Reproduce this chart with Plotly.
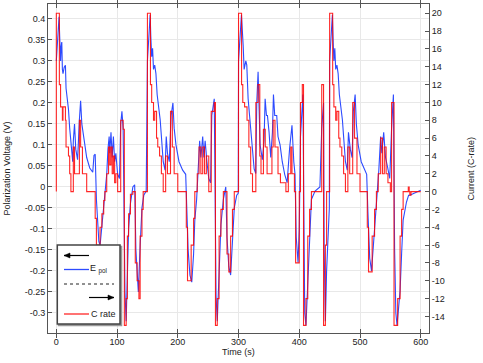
import plotly.graph_objects as go

# ---------------- data ----------------
# C-rate step profile, cycle by cycle (time in s, value holds until next time)
rate_t1 = [0, 0, 5, 7, 10, 11, 15, 16, 20, 22, 24, 28, 30, 38, 40, 43, 50, 64, 66, 72, 75, 78, 80,
           83, 86, 88, 90, 92, 94, 96, 98, 101, 106, 110, 112, 115, 117, 119, 122, 126, 130, 133,
           136, 138, 141, 143]
rate_c1 = [0, 20, 12, 9.5, 8, 9.5, 8, 5, 4, 2, 0, 5, 2, 8, 5, 2, 0, -3, -6, -4, -2.5, -1, 0,
           2, 5, 3, 5, 2, 4, 1, 2, 0, 8, 7, -15, -12, -5, -2.5, -0.3, 0, -8, -10,
           -12, -5, -2, 0]

rate_t2 = [150, 155, 157, 160, 162, 165, 167, 170, 173, 176, 180, 183, 188, 191, 194, 200, 214,
           216, 222, 226, 228, 232, 235, 238, 241, 244, 247, 251, 255, 260, 262, 265, 268, 271,
           275, 281, 284, 287, 290, 293]
rate_c2 = [20, 12, 10, 8, 9, 6, 5, 4, 2, 0, 4, 2, 9, 5, 2, 0, -4,
           -10, -6, -3, 0, 2, 5, 2, 5, 2, 4, 0, 9, 10, -15, -12, -5, -2,
           0, -7, -9, -5, -2, 0]

rate_t3 = [300, 305, 307, 310, 314, 317, 320, 323, 328.5, 332, 335, 337, 341, 344, 347, 355, 357,
           360, 365, 369, 378, 382, 386, 388, 392, 394, 400, 402, 405, 407, 411, 414, 417, 420,
           437, 440, 443, 445]
rate_c3 = [20, 12, 10, 9.5, 8, 5, 2, 0, 10, 12, 4, 2, 7, 5, 2, 5, 8,
           5, 2, 1, 0, 2, 5, 2, 0, -8, 0, 10, 12, -15, -12, -5, -2, 0,
           12, -15, -6, 0]

rate_t4 = [450, 455, 457, 460, 462, 465, 467, 470, 473, 476, 480, 483, 488, 491, 495, 500, 512,
           514, 520, 524, 527, 530, 534, 537, 540, 543, 546, 550, 552, 556, 562, 566, 568.5,
           571, 579.5, 581, 582, 584, 600]
rate_c4 = [20, 12, 9.5, 8, 9, 6, 5, 4, 2, 0, 5, 2, 10, 6, 2, 0, -4,
           -9, -5, -2, 0, 2, 6, 2, 5, 2, 1, 0, 10, -15, -12, -5, -2,
           0, 0.5, 0, -0.4, 0, 0]

# Polarization voltage, cycle by cycle
volt_t1 = [0, 4.5, 5.5, 7, 8, 9, 10, 11, 13, 15, 16, 18, 20, 22, 24, 27, 28, 30, 32, 35, 38, 40,
           42, 45, 50, 55, 60, 62, 64, 66, 68, 70, 72, 74, 76, 78, 80, 83, 85, 87, 88, 90, 92,
           94, 96, 98, 101, 104, 106, 108, 110, 112, 113, 115, 117, 119, 122, 126, 129, 131,
           133, 135, 138, 141, 144, 148]
volt_v1 = [0.30, 0.405, 0.36, 0.30, 0.335, 0.345, 0.28, 0.27, 0.285, 0.29, 0.235, 0.215, 0.185,
           0.14, 0.10, 0.06, 0.11, 0.15, 0.09, 0.065, 0.16, 0.205, 0.15, 0.12, 0.07, 0.045,
           0.035, 0.075, 0.078, -0.03, -0.10, -0.13, -0.14, -0.11, -0.07, -0.04, -0.02, 0.03,
           0.09, 0.12, 0.08, 0.13, 0.07, 0.12, 0.06, 0.08, 0.03, 0.02, 0.15, 0.18, 0.14, -0.05,
           -0.25, -0.32, -0.20, -0.10, -0.04, 0.0, 0.005, -0.15, -0.20, -0.25, -0.14, -0.05,
           -0.02, -0.01]

volt_t2 = [150, 154.5, 155.5, 157, 158.5, 160, 162, 164, 166, 168, 171, 173, 176, 179, 181, 183,
           186, 189, 192, 194, 197, 202, 208, 213, 215, 217, 220, 223, 226, 228, 231, 234, 236,
           238, 241, 243, 245, 248, 251, 254, 256, 260, 262, 263, 265, 268, 271, 275, 279, 281,
           284, 287, 290, 293, 297, 299.5]
volt_v2 = [0.30, 0.41, 0.36, 0.31, 0.33, 0.28, 0.29, 0.27, 0.22, 0.20, 0.16, 0.12, 0.06, 0.04,
           0.12, 0.08, 0.06, 0.17, 0.20, 0.14, 0.10, 0.06, 0.04, 0.03, -0.05, -0.15, -0.21,
           -0.227, -0.16, -0.08, -0.03, 0.05, 0.11, 0.07, 0.12, 0.07, 0.11, 0.06, 0.02, 0.01,
           0.17, 0.21, -0.05, -0.26, -0.32, -0.20, -0.09, -0.03, 0.0, -0.12, -0.19, -0.21,
           -0.12, -0.05, -0.02, -0.015]

volt_t3 = [300, 304.8, 307.6, 309.2, 312, 313.6, 315.8, 320.2, 323, 325.7, 328.4, 330, 332.2,
           335.5, 339.3, 342, 343.8, 346, 347.6, 350.3, 353, 355.8, 357.5, 359.6, 362.9, 365,
           368.4, 372, 376, 380, 384, 388, 391, 393, 395, 398, 400, 402, 406, 407.5, 409, 411,
           414, 417, 420, 426, 434, 437, 440, 441, 443, 445, 448, 449.5]
volt_v3 = [0.30, 0.41, 0.338, 0.28, 0.30, 0.29, 0.21, 0.14, 0.09, 0.043, 0.032, 0.20, 0.274,
           0.10, 0.065, 0.11, 0.21, 0.17, 0.17, 0.13, 0.07, 0.13, 0.22, 0.17, 0.17, 0.12,
           0.10, 0.06, 0.03, 0.01, 0.09, 0.147, 0.06, 0.03, -0.12, -0.18, -0.10, 0.12, 0.22,
           -0.10, -0.30, -0.33, -0.22, -0.10, -0.03, -0.01, 0.0, 0.14, 0.20, -0.15, -0.32,
           -0.20, -0.08, -0.05]

volt_t4 = [450, 454.5, 455.5, 457, 458.5, 460, 462, 464, 466, 468, 471, 473, 476, 479, 481, 484,
           487, 489, 492, 494, 497, 502, 508, 511, 513, 516, 519, 522, 525, 528, 531, 534, 536,
           539, 542, 545, 549, 552, 555, 557, 559, 561, 563, 566, 568.5, 571, 576.5, 580, 582,
           587.5, 598.5, 600]
volt_v4 = [0.30, 0.41, 0.36, 0.30, 0.33, 0.28, 0.29, 0.27, 0.22, 0.20, 0.16, 0.12, 0.06, 0.04,
           0.13, 0.09, 0.07, 0.18, 0.22, 0.15, 0.10, 0.06, 0.04, 0.03, -0.06, -0.17, -0.20,
           -0.14, -0.07, -0.03, 0.04, 0.12, 0.08, 0.13, 0.07, 0.05, 0.02, 0.14, 0.22, -0.15,
           -0.30, -0.33, -0.30, -0.247, -0.159, -0.079, -0.036, -0.02, -0.02, -0.016, -0.01,
           -0.008]

x_ticks = [0, 100, 200, 300, 400, 500, 600]
y_ticks = [-0.3, -0.25, -0.2, -0.15, -0.1, -0.05, 0, 0.05, 0.1, 0.15, 0.2, 0.25, 0.3, 0.35, 0.4]
y_tick_text = ["-0.3", "-0.25", "-0.2", "-0.15", "-0.1", "-0.05", "0", "0.05", "0.1", "0.15",
               "0.2", "0.25", "0.3", "0.35", "0.4"]
y2_ticks = list(range(-14, 21, 2))
y2_tick_text = [str(v) for v in y2_ticks]

# ---------------- figure ----------------
W, H = 483, 363
L, R, T, B = 48, 54, 4, 30
PW, PH = W - L - R, H - T - B


def px(x):
    return (x - L) / PW


def py(y):
    return (H - B - y) / PH


rate_t = rate_t1 + rate_t2 + rate_t3 + rate_t4
rate_c = rate_c1 + rate_c2 + rate_c3 + rate_c4
volt_t = volt_t1 + volt_t2 + volt_t3 + volt_t4
volt_v = volt_v1 + volt_v2 + volt_v3 + volt_v4

FONT = "Liberation Sans, Arial, sans-serif"
BLUE = "rgb(45,75,255)"
RED = "rgba(255,0,0,0.85)"

fig = go.Figure()
fig.add_trace(go.Scatter(x=volt_t, y=volt_v, mode="lines", line=dict(color=BLUE, width=1.1),
                         name="E pol", yaxis="y"))
fig.add_trace(go.Scatter(x=rate_t, y=rate_c, mode="lines", line=dict(color=RED, width=1.1, shape="hv"),
                         name="C rate", yaxis="y2"))

axis_common = dict(showline=True, linecolor="#555", linewidth=1, ticks="inside", ticklen=4,
                   tickcolor="#555", tickfont=dict(family=FONT, size=9, color="#222"),
                   zeroline=False, automargin=False)

fig.update_layout(
    width=W, height=H, margin=dict(l=L, r=R, t=T, b=B), showlegend=False,
    paper_bgcolor="white", plot_bgcolor="white",
    xaxis=dict(range=[-13.7, 613.6], tickvals=x_ticks, showgrid=True, gridcolor="#e8e8e8",
               mirror="allticks", **axis_common),
    yaxis=dict(range=[-0.348, 0.4357], tickvals=y_ticks, ticktext=y_tick_text, showgrid=True,
               gridcolor="#e8e8e8", **axis_common),
    yaxis2=dict(range=[-15.86, 21.04], tickvals=y2_ticks, ticktext=y2_tick_text, overlaying="y",
                side="right", showgrid=False, **axis_common),
)

# axis titles
ann = [
    dict(text="Polarization Voltage (V)", x=px(6), y=0.5, textangle=-90),
    dict(text="Current (C-rate)", x=px(470), y=0.5, textangle=-90),
    dict(text="Time (s)", x=0.5, y=py(352)),
]
for a in ann:
    fig.add_annotation(xref="paper", yref="paper", showarrow=False, xanchor="center",
                       yanchor="middle", font=dict(family=FONT, size=9, color="#222"), **a)

# legend box
fig.add_shape(type="rect", xref="paper", yref="paper", x0=px(58.5), x1=px(121.5), y0=py(325.5),
              y1=py(246.5), line=dict(color="#999", width=1.5), fillcolor="#999", layer="above")
fig.add_shape(type="rect", xref="paper", yref="paper", x0=px(57.3), x1=px(120), y0=py(324),
              y1=py(245), line=dict(color="#444", width=1.5), fillcolor="white", layer="above")


def arrow(x_tail, x_head, y):
    fig.add_shape(type="line", xref="paper", yref="paper", x0=px(x_tail), x1=px(x_head),
                  y0=py(y), y1=py(y), line=dict(color="black", width=1.2), layer="above")
    d = 6 if x_head > x_tail else -6
    path = (f"M {px(x_head)},{py(y)} L {px(x_head - d)},{py(y - 2.5)} "
            f"L {px(x_head - d)},{py(y + 2.5)} Z")
    fig.add_shape(type="path", xref="paper", yref="paper", path=path, fillcolor="black",
                  line=dict(color="black", width=0.5), layer="above")


# left arrow (E pol -> left axis)
arrow(89, 64, 255.5)
fig.add_shape(type="line", xref="paper", yref="paper", x0=px(64), x1=px(89), y0=py(269.5),
              y1=py(269.5), line=dict(color=BLUE, width=1.3), layer="above")
fig.add_annotation(xref="paper", yref="paper", x=px(88), y=py(269), xanchor="left",
                   yanchor="middle", showarrow=False, text="E <sub>pol</sub>",
                   font=dict(family=FONT, size=9, color="#222"))
fig.add_shape(type="line", xref="paper", yref="paper", x0=px(64), x1=px(114), y0=py(284),
              y1=py(284), line=dict(color="#222", width=1, dash="dot"), layer="above")
# right arrow (C rate -> right axis)
arrow(89, 114, 297.5)
fig.add_shape(type="line", xref="paper", yref="paper", x0=px(64), x1=px(89), y0=py(314),
              y1=py(314), line=dict(color=RED, width=1.3), layer="above")
fig.add_annotation(xref="paper", yref="paper", x=px(88.5), y=py(314), xanchor="left",
                   yanchor="middle", showarrow=False, text="C rate",
                   font=dict(family=FONT, size=9, color="#222"))

fig.write_html("out.html", config={"displayModeBar": False},
               post_script="document.body.style.margin='0';")
